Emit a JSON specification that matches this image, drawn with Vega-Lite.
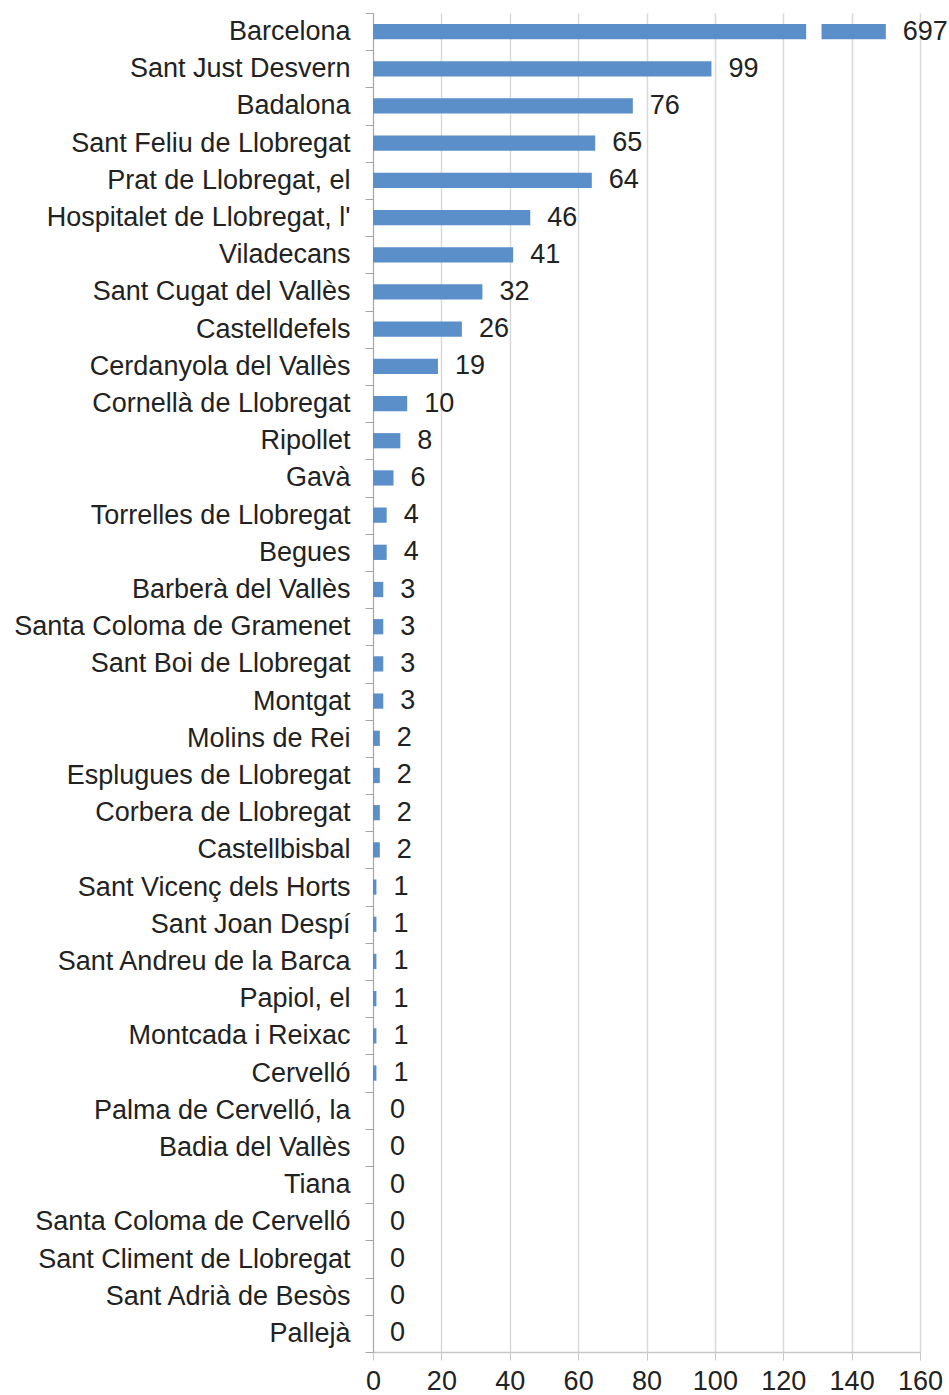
{
  "$schema": "https://vega.github.io/schema/vega-lite/v6.json",
  "autosize": {"type": "none"},
  "padding": {"left": 373, "top": 13, "right": 29, "bottom": 43},
  "width": 547,
  "height": 1339,
  "background": "white",
  "config": {
    "view": {"stroke": null},
    "font": "Liberation Sans",
    "axis": {"labelFont": "Liberation Sans", "labelFontSize": 27, "labelColor": "#222222"}
  },
  "datasets": {
    "main": [
      {"municipi": "Barcelona", "valor": 697, "mostrat": 150},
      {"municipi": "Sant Just Desvern", "valor": 99, "mostrat": 99},
      {"municipi": "Badalona", "valor": 76, "mostrat": 76},
      {"municipi": "Sant Feliu de Llobregat", "valor": 65, "mostrat": 65},
      {"municipi": "Prat de Llobregat, el", "valor": 64, "mostrat": 64},
      {"municipi": "Hospitalet de Llobregat, l'", "valor": 46, "mostrat": 46},
      {"municipi": "Viladecans", "valor": 41, "mostrat": 41},
      {"municipi": "Sant Cugat del Vallès", "valor": 32, "mostrat": 32},
      {"municipi": "Castelldefels", "valor": 26, "mostrat": 26},
      {"municipi": "Cerdanyola del Vallès", "valor": 19, "mostrat": 19},
      {"municipi": "Cornellà de Llobregat", "valor": 10, "mostrat": 10},
      {"municipi": "Ripollet", "valor": 8, "mostrat": 8},
      {"municipi": "Gavà", "valor": 6, "mostrat": 6},
      {"municipi": "Torrelles de Llobregat", "valor": 4, "mostrat": 4},
      {"municipi": "Begues", "valor": 4, "mostrat": 4},
      {"municipi": "Barberà del Vallès", "valor": 3, "mostrat": 3},
      {"municipi": "Santa Coloma de Gramenet", "valor": 3, "mostrat": 3},
      {"municipi": "Sant Boi de Llobregat", "valor": 3, "mostrat": 3},
      {"municipi": "Montgat", "valor": 3, "mostrat": 3},
      {"municipi": "Molins de Rei", "valor": 2, "mostrat": 2},
      {"municipi": "Esplugues de Llobregat", "valor": 2, "mostrat": 2},
      {"municipi": "Corbera de Llobregat", "valor": 2, "mostrat": 2},
      {"municipi": "Castellbisbal", "valor": 2, "mostrat": 2},
      {"municipi": "Sant Vicenç dels Horts", "valor": 1, "mostrat": 1},
      {"municipi": "Sant Joan Despí", "valor": 1, "mostrat": 1},
      {"municipi": "Sant Andreu de la Barca", "valor": 1, "mostrat": 1},
      {"municipi": "Papiol, el", "valor": 1, "mostrat": 1},
      {"municipi": "Montcada i Reixac", "valor": 1, "mostrat": 1},
      {"municipi": "Cervelló", "valor": 1, "mostrat": 1},
      {"municipi": "Palma de Cervelló, la", "valor": 0, "mostrat": 0},
      {"municipi": "Badia del Vallès", "valor": 0, "mostrat": 0},
      {"municipi": "Tiana", "valor": 0, "mostrat": 0},
      {"municipi": "Santa Coloma de Cervelló", "valor": 0, "mostrat": 0},
      {"municipi": "Sant Climent de Llobregat", "valor": 0, "mostrat": 0},
      {"municipi": "Sant Adrià de Besòs", "valor": 0, "mostrat": 0},
      {"municipi": "Pallejà", "valor": 0, "mostrat": 0}
    ],
    "tall": [
      {"municipi": "Barcelona", "inici": 126.7, "fi": 131.2}
    ]
  },
  "encoding": {
    "y": {
      "field": "municipi",
      "type": "nominal",
      "sort": null,
      "scale": {"paddingInner": 0, "paddingOuter": 0},
      "axis": {
        "title": null,
        "tickBand": "extent",
        "tickSize": 8,
        "tickColor": "#a6a6a6",
        "domainColor": "#a6a6a6",
        "labelPadding": 15,
        "grid": false,
        "labelLimit": 400
      }
    }
  },
  "layer": [
    {
      "data": {"name": "main"},
      "mark": {"type": "bar", "color": "#5b8fca", "height": {"band": 0.41}},
      "encoding": {
        "x": {
          "field": "mostrat",
          "type": "quantitative",
          "scale": {"domain": [0, 160], "nice": false},
          "axis": {
            "title": null,
            "values": [0, 20, 40, 60, 80, 100, 120, 140, 160],
            "grid": true,
            "gridColor": "#d9d9d9",
            "gridWidth": 1.5,
            "tickSize": 8,
            "tickColor": "#c8c8c8",
            "domainColor": "#c8c8c8",
            "domainWidth": 1.5,
            "labelPadding": 8,
            "labelFlush": false
          }
        }
      }
    },
    {
      "data": {"name": "tall"},
      "mark": {"type": "bar", "color": "white", "height": {"band": 0.5}},
      "encoding": {
        "x": {"field": "inici", "type": "quantitative"},
        "x2": {"field": "fi"}
      }
    },
    {
      "data": {"name": "main"},
      "mark": {"type": "text", "align": "left", "baseline": "middle", "dx": 17, "fontSize": 27, "color": "#222222", "font": "Liberation Sans"},
      "encoding": {
        "x": {"field": "mostrat", "type": "quantitative"},
        "text": {"field": "valor", "type": "quantitative"}
      }
    }
  ]
}
